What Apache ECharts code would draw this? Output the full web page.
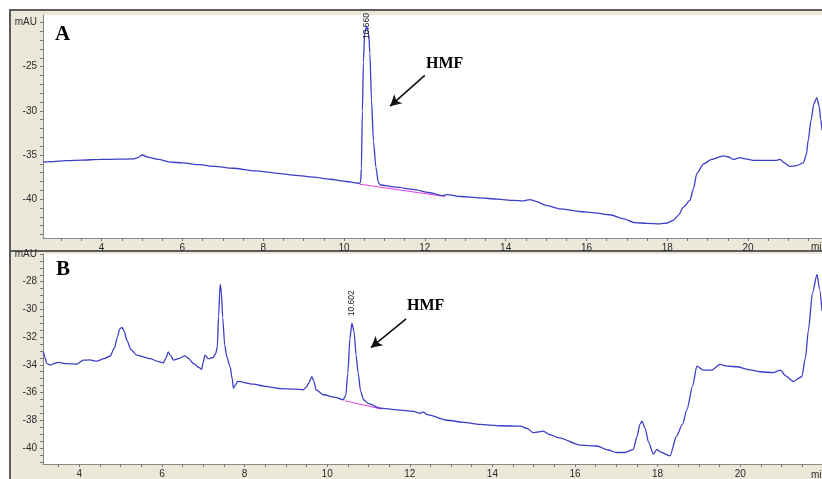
<!DOCTYPE html>
<html>
<head>
<meta charset="utf-8">
<title>HPLC chromatograms – HMF</title>
<script src="https://cdn.jsdelivr.net/npm/echarts@6/dist/echarts.min.js"></script>
<style>
  html, body { margin: 0; padding: 0; background: #fff; }
  #chart { width: 822px; height: 479px; }
</style>
</head>
<body>
<div id="chart"></div>
<script>
// chromatogram A (retention time in min, signal in mAU)
const timeA = [2.55, 2.8, 3.13, 3.5, 3.96, 4.4, 4.78, 4.9, 5.01, 5.15, 5.4, 5.69, 6.0, 6.43, 6.8, 7.26, 7.8, 8.41, 8.8, 9.24,
  9.65, 10.06, 10.37, 10.41, 10.43, 10.455, 10.48, 10.51, 10.56, 10.61, 10.64, 10.68, 10.73, 10.79, 10.85, 10.9, 11.3, 11.71, 12.1, 12.45,
  12.54, 12.9, 13.36, 13.8, 14.19, 14.45, 14.6, 14.75, 15.0, 15.35, 15.84, 16.2, 16.58, 16.9, 17.2, 17.5, 17.82, 18.0, 18.15, 18.28,
  18.4, 18.56, 18.65, 18.73, 18.9, 19.1, 19.39, 19.5, 19.63, 19.8, 19.95, 20.13, 20.4, 20.71, 20.79, 20.9, 21.04, 21.2, 21.37, 21.44,
  21.49, 21.56, 21.63, 21.7, 21.76, 21.8, 21.83]
const signalA = [-35.8, -35.75, -35.64, -35.58, -35.5, -35.48, -35.45, -35.3, -35.0, -35.25, -35.5, -35.8, -35.9, -36.1, -36.3, -36.5, -36.8, -37.1, -37.3, -37.5,
  -37.75, -38.0, -38.2, -38.1, -36.5, -30.0, -24.5, -21.2, -20.4, -21.2, -23.5, -28.8, -33.5, -36.4, -38.1, -38.4, -38.65, -38.9, -39.25, -39.6,
  -39.5, -39.7, -39.85, -40.0, -40.15, -40.2, -40.05, -40.25, -40.7, -41.1, -41.4, -41.55, -41.77, -42.2, -42.65, -42.75, -42.8, -42.7, -42.4, -41.8,
  -40.9, -40.15, -38.8, -37.1, -36.0, -35.5, -35.1, -35.2, -35.5, -35.3, -35.45, -35.6, -35.6, -35.6, -35.5, -35.9, -36.3, -36.2, -35.9, -35.0,
  -33.3, -31.0, -29.2, -28.5, -29.5, -31.0, -32.2]
const baseTimeA = [10.38, 12.5]
const baseSignalA = [-38.3, -39.7]

// chromatogram B
const timeB = [3.13, 3.17, 3.21, 3.29, 3.4, 3.49, 3.7, 3.94, 4.1, 4.25, 4.42, 4.6, 4.74, 4.85, 4.92, 4.98, 5.03, 5.09, 5.15, 5.25,
  5.39, 5.71, 5.9, 6.03, 6.1, 6.15, 6.2, 6.28, 6.4, 6.56, 6.65, 6.76, 6.9, 6.96, 7.0, 7.04, 7.12, 7.24, 7.3, 7.34,
  7.37, 7.41, 7.44, 7.47, 7.52, 7.57, 7.65, 7.7, 7.73, 7.78, 7.83, 8.21, 8.5, 8.86, 9.2, 9.42, 9.5, 9.55, 9.63, 9.68,
  9.73, 9.91, 10.2, 10.39, 10.45, 10.5, 10.55, 10.6, 10.65, 10.7, 10.75, 10.81, 10.88, 11.0, 11.28, 11.7, 12.09, 12.25, 12.33, 12.42,
  12.9, 13.3, 13.7, 14.2, 14.67, 14.85, 14.99, 15.1, 15.23, 15.4, 15.6, 16.13, 16.53, 16.8, 17.01, 17.21, 17.41, 17.5, 17.57, 17.62,
  17.7, 17.78, 17.9, 17.98, 18.06, 18.3, 18.46, 18.6, 18.71, 18.85, 18.95, 19.11, 19.31, 19.51, 19.7, 19.92, 20.2, 20.48, 20.8, 20.97,
  21.1, 21.29, 21.49, 21.58, 21.65, 21.75, 21.86, 21.92, 21.98]
const signalB = [-33.07, -33.5, -33.9, -34.02, -33.9, -33.83, -33.92, -33.95, -33.66, -33.65, -33.74, -33.55, -33.38, -32.8, -32.0, -31.4, -31.3, -31.6, -32.24, -32.9,
  -33.3, -33.55, -33.75, -33.86, -33.5, -33.07, -33.3, -33.66, -33.55, -33.35, -33.55, -33.9, -34.2, -34.33, -33.8, -33.3, -33.55, -33.47, -33.2, -32.71,
  -30.5, -28.19, -28.8, -30.57, -32.6, -33.43, -34.14, -35.0, -35.69, -35.45, -35.2, -35.4, -35.55, -35.72, -35.76, -35.8, -35.6, -35.33, -34.86, -35.2,
  -35.8, -36.16, -36.35, -36.52, -36.2, -34.6, -32.1, -31.0, -31.6, -33.3, -34.6, -35.9, -36.52, -36.8, -37.12, -37.25, -37.36, -37.5, -37.4, -37.6,
  -38.0, -38.15, -38.3, -38.4, -38.43, -38.6, -38.9, -38.85, -38.79, -39.05, -39.26, -39.8, -39.86, -40.15, -40.33, -40.33, -40.1, -39.2, -38.3, -38.07,
  -38.6, -39.6, -40.45, -40.1, -40.28, -40.57, -39.14, -38.3, -37.24, -35.5, -34.1, -34.38, -34.38, -33.97, -34.1, -34.14, -34.35, -34.5, -34.57, -34.38,
  -34.8, -35.2, -34.86, -33.5, -31.52, -28.8, -27.47, -28.5, -30.1]
const baseTimeB = [10.43, 11.32]
const baseSignalB = [-36.6, -37.2]

// peak annotations (label gap is along the rotated text, in px)
const peakA = { time: 10.56, value: -20.4, label: '10.560', gap: -13 }
const peakB = { time: 10.6, value: -31.0, label: '10.602', gap: 7 }
const arrowA = [[12.0, -25.98], [11.14, -29.47]]
const arrowB = [[11.91, -30.69], [11.06, -32.76]]

// axis ticks and labels
const xLabelValues = [4, 6, 8, 10, 12, 14, 16, 18, 20]
const xTickValues = [3, 3.5, 4, 4.5, 5, 5.5, 6, 6.5, 7, 7.5, 8, 8.5, 9, 9.5, 10, 10.5, 11, 11.5, 12, 12.5,
  13, 13.5, 14, 14.5, 15, 15.5, 16, 16.5, 17, 17.5, 18, 18.5, 19, 19.5, 20, 20.5, 21, 21.5]
const yLabelsA = [-40, -35, -30, -25, -20]
const yTicksA = [-44, -43, -42, -41, -40, -39, -38, -37, -36, -35, -34, -33, -32, -31, -30, -29, -28, -27, -26, -25,
  -24, -23, -22, -21, -20]
const yLabelsB = [-40, -38, -36, -34, -32, -30, -28, -26]
const yTicksB = [-41, -40.5, -40, -39.5, -39, -38.5, -38, -37.5, -37, -36.5, -36, -35.5, -35, -34.5, -34, -33.5, -33, -32.5,
  -32, -31.5, -31, -30.5, -30, -29.5, -29, -28.5, -28, -27.5, -27, -26.5, -26]

const TRACE = '#3d3dc8'
const BASE = '#e33fe0'
const FRAME = '#ebe8da'
const sans = 'Liberation Sans, Arial, sans-serif'
const serif = 'Liberation Serif, Times New Roman, serif'
const labelFont = { color: '#2a2a2a', fontSize: 10, fontFamily: sans }

const chart = echarts.init(document.getElementById('chart'), null, { renderer: 'canvas' })

function pairs(xs, ys) {
  return xs.map((x, i) => [x, ys[i]])
}

function xAxisFor(gridIndex, min, max) {
  return {
    type: 'value', gridIndex, min, max,
    axisLine: { show: true, onZero: false, lineStyle: { color: '#8a8a8a', width: 1 } },
    axisTick: { show: true, length: 3, customValues: xTickValues, lineStyle: { color: '#777' } },
    axisLabel: { customValues: xLabelValues, margin: 5, ...labelFont },
    splitLine: { show: false }
  }
}

function yAxisFor(gridIndex, min, max, labels, ticks, topLabel) {
  return {
    type: 'value', gridIndex, min, max,
    axisLine: { show: true, onZero: false, lineStyle: { color: '#8a8a8a', width: 1 } },
    axisTick: { show: true, length: 3, customValues: ticks, lineStyle: { color: '#777' } },
    axisLabel: {
      customValues: labels, margin: 6, ...labelFont,
      formatter: (v) => (v === topLabel ? 'mAU' : String(v))
    },
    splitLine: { show: false }
  }
}

function traceSeries(idx, data, peak, arrow) {
  return {
    type: 'line', xAxisIndex: idx, yAxisIndex: idx,
    data, showSymbol: false, smooth: 0.25, smoothMonotone: 'x',
    lineStyle: { color: TRACE, width: 1.3 },
    silent: true, animation: false, clip: true,
    markPoint: {
      symbol: 'circle', symbolSize: 0, silent: true, animation: false,
      data: [{
        coord: [peak.time, peak.value],
        label: {
          show: true, formatter: peak.label, position: 'inside', rotate: 90,
          align: 'left', verticalAlign: 'middle', offset: [peak.gap, 0],
          color: '#222', fontSize: 8.5, fontFamily: sans
        }
      }]
    },
    markLine: {
      silent: true, animation: false, symbol: ['none', 'arrow'], symbolSize: [9, 11],
      label: { show: false },
      lineStyle: { color: '#111', width: 1.6, type: 'solid' },
      data: [[{ coord: arrow[0] }, { coord: arrow[1] }]]
    }
  }
}

function baselineSeries(idx, data) {
  return {
    type: 'line', xAxisIndex: idx, yAxisIndex: idx, data,
    showSymbol: false, silent: true, animation: false,
    lineStyle: { color: BASE, width: 1 }, z: 1
  }
}

chart.setOption({
  animation: false,
  backgroundColor: 'transparent',
  grid: [
    { left: 43, right: 0, top: 15, height: 223, show: true, backgroundColor: '#fff', borderWidth: 0 },
    { left: 43, right: 0, top: 254, height: 211, show: true, backgroundColor: '#fff', borderWidth: 0 }
  ],
  xAxis: [xAxisFor(0, 2.55, 21.83), xAxisFor(1, 3.12, 21.98)],
  yAxis: [
    yAxisFor(0, -44.4, -19.15, yLabelsA, yTicksA, -20),
    yAxisFor(1, -41.16, -26, yLabelsB, yTicksB, -26)
  ],
  series: [
    baselineSeries(0, pairs(baseTimeA, baseSignalA)),
    traceSeries(0, pairs(timeA, signalA), peakA, arrowA),
    baselineSeries(1, pairs(baseTimeB, baseSignalB)),
    traceSeries(1, pairs(timeB, signalB), peakB, arrowB)
  ],
  graphic: [
    { type: 'rect', z: -10, shape: { x: 10, y: 10, width: 830, height: 241 },
      style: { fill: FRAME, stroke: '#5c5c5c', lineWidth: 2 } },
    { type: 'rect', z: -10, shape: { x: 10, y: 251, width: 830, height: 240 },
      style: { fill: FRAME, stroke: '#5c5c5c', lineWidth: 2 } },
    { type: 'text', z: 10, left: 55, top: 24,
      style: { text: 'A', font: 'bold 21px ' + serif, fill: '#000' } },
    { type: 'text', z: 10, left: 56, top: 259,
      style: { text: 'B', font: 'bold 21px ' + serif, fill: '#000' } },
    { type: 'text', z: 10, left: 426, top: 56,
      style: { text: 'HMF', font: 'bold 16px ' + serif, fill: '#000' } },
    { type: 'text', z: 10, left: 407, top: 298,
      style: { text: 'HMF', font: 'bold 16px ' + serif, fill: '#000' } },
    { type: 'text', z: 10, left: 811, top: 242,
      style: { text: 'min', font: '10px ' + sans, fill: '#2a2a2a' } },
    { type: 'text', z: 10, left: 811, top: 470,
      style: { text: 'min', font: '10px ' + sans, fill: '#2a2a2a' } }
  ]
})
</script>
</body>
</html>
